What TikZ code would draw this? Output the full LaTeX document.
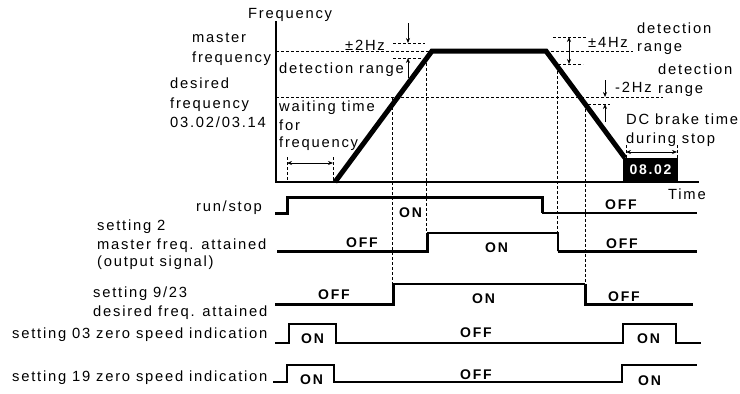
\documentclass[tikz,border=0pt]{standalone}
\usepackage{fontspec}
\setmainfont{Liberation Sans}[LetterSpace=12]
\usetikzlibrary{arrows.meta}
\begin{document}
\begin{tikzpicture}[x=1pt,y=-1pt,
 lbl/.style={inner sep=0pt, font=\fontsize{14.75}{16}\selectfont, anchor=base west},
 blbl/.style={inner sep=0pt, font=\fontsize{14}{16}\selectfont\bfseries, anchor=base west},
 dsh/.style={line width=0.7pt, dash pattern=on 3pt off 2pt},
 sig/.style={line width=2.5pt, line join=miter},
 tip/.style={-{Stealth[length=5pt,width=4pt]}, line width=0.7pt},
 dtip/.style={{Stealth[length=5pt,width=4pt]}-{Stealth[length=5pt,width=4pt]}, line width=0.7pt},
]
\useasboundingbox (0,0) rectangle (740,394);
% axes
\coordinate (O) at (276,182);
\coordinate (ytop) at (276,21);
\coordinate (xend) at (699,182);
\draw[line width=1.2pt] (ytop) -- (O) -- (xend);
\node[lbl] (freq) at (248,18) {Frequency};
\node[lbl] (time) at (668,199) {Time};
% reference lines
\draw[dsh] (276,51) -- (432,51);
\draw[dsh] (546,51) -- (633,51);
\draw[dsh] (276,97) -- (663,97);
\draw[dsh] (393,43) -- (425,43);
\draw[dsh] (393,58) -- (423,58);
\draw[dsh] (553,37) -- (587,37);
\draw[dsh] (558,64) -- (583,64);
\draw[dsh] (588,104) -- (610,104);
% vertical dashed
\draw[dsh] (287,157) -- (287,182);
\draw[dsh] (333,157) -- (333,182);
\draw[dsh] (392,97) -- (392,284);
\draw[dsh] (426,58) -- (426,233);
\draw[dsh] (557,66) -- (557,251);
\draw[dsh] (585,104) -- (585,284);
\draw[dsh] (626,145) -- (626,158);
\draw[dsh] (677,145) -- (677,158);
% arrows
\coordinate (a1s) at (408,23); \coordinate (a1e) at (408,43);
\coordinate (a2s) at (408,78); \coordinate (a2e) at (408,58);
\draw[tip] (a1s) -- (a1e);
\draw[tip] (a2s) -- (a2e);
\coordinate (b1) at (569,37); \coordinate (b2) at (569,64);
\draw[dtip] (b1) -- (b2);
\coordinate (c1s) at (605,80); \coordinate (c1e) at (605,97);
\coordinate (c2s) at (605,122); \coordinate (c2e) at (605,104);
\draw[tip] (c1s) -- (c1e);
\draw[tip] (c2s) -- (c2e);
\coordinate (w1) at (287,163); \coordinate (w2) at (333,163);
\draw[dtip] (w1) -- (w2);
\coordinate (d1) at (626,152); \coordinate (d2) at (677,152);
\draw[dtip] (d1) -- (d2);
% frequency profile
\draw[line width=5pt, line join=miter] (335,182) -- (432,51) -- (546,51) -- (625,158);
\node[fill=black, text=white, inner sep=0pt, minimum width=55pt, minimum height=25pt,
      font=\fontsize{14}{16}\selectfont\bfseries] (box) at (650.5,170) {08.02};
% graph labels
\node[lbl] (mf1) at (192,42) {master};
\node[lbl] (mf2) at (192,62) {frequency};
\node[lbl] (df1) at (170,88) {desired};
\node[lbl] (df2) at (170,108) {frequency};
\node[lbl] (df3) at (170,127) {03.02/03.14};
\node[lbl] (pm2) at (345,50) {±2Hz};
\node[lbl] (dr1) at (279,73) {detection range};
\node[lbl] (wt1) at (279,111) {waiting time};
\node[lbl] (wt2) at (279,130) {for};
\node[lbl] (wt3) at (279,147) {frequency};
\node[lbl] (pm4) at (588,47) {±4Hz};
\node[lbl] (dr2a) at (637,33) {detection};
\node[lbl] (dr2b) at (637,51) {range};
\node[lbl] (m2) at (615,92) {-2Hz};
\node[lbl] (dr3a) at (658,74) {detection};
\node[lbl] (dr3b) at (658,93) {range};
\node[lbl] (dc1) at (626,124) {DC brake time};
\node[lbl] (dc2) at (626,143) {during stop};
% signal labels
\node[lbl, anchor=base east] (rs) at (262,211) {run/stop};
\node[lbl] (s2a) at (97,230) {setting 2};
\node[lbl] (s2b) at (97,249) {master freq. attained};
\node[lbl] (s2c) at (97,266) {(output signal)};
\node[lbl] (s9a) at (93,297) {setting 9/23};
\node[lbl] (s9b) at (93,316) {desired freq. attained};
\node[lbl] (s03) at (12,338) {setting 03 zero speed indication};
\node[lbl] (s19) at (12,381) {setting 19 zero speed indication};
% signals
\draw[sig, line width=3pt] (275,213) -- (287,213) -- (287,197) -- (542,197) -- (542,213);
\draw[sig, line width=2pt] (542,213) -- (697,213);
\draw[sig, line width=3pt] (277,251) -- (427,251) -- (427,233);
\draw[sig, line width=2pt] (427,233) -- (558,233) -- (558,251);
\draw[sig, line width=3pt] (558,251) -- (697,251);
\draw[sig, line width=3pt] (275,304) -- (393,304) -- (393,284);
\draw[sig, line width=2pt] (393,284) -- (585,284);
\draw[sig, line width=3pt] (585,284) -- (585,304) -- (693,304);
\draw[sig] (275,343) -- (289,343) -- (289,324) -- (336,324) -- (336,343) -- (623,343) -- (623,324) -- (676,324) -- (676,343) -- (701,343);
\draw[sig] (273,382) -- (287,382) -- (287,365) -- (334,365) -- (334,382) -- (622,382) -- (622,365) -- (697,365);
% ON/OFF labels
\node[blbl] (on1) at (399,217) {ON};
\node[blbl] (off1) at (605,209) {OFF};
\node[blbl] (off2) at (346,247) {OFF};
\node[blbl] (on2) at (485,252) {ON};
\node[blbl] (off3) at (606,248) {OFF};
\node[blbl] (off4) at (318,299) {OFF};
\node[blbl] (on3) at (472,303) {ON};
\node[blbl] (off5) at (608,301) {OFF};
\node[blbl] (on4) at (301,343) {ON};
\node[blbl] (off6) at (460,337) {OFF};
\node[blbl] (on5) at (637,343) {ON};
\node[blbl] (on6) at (300,384) {ON};
\node[blbl] (off7) at (460,379) {OFF};
\node[blbl] (on7) at (638,385) {ON};
\end{tikzpicture}
\end{document}
